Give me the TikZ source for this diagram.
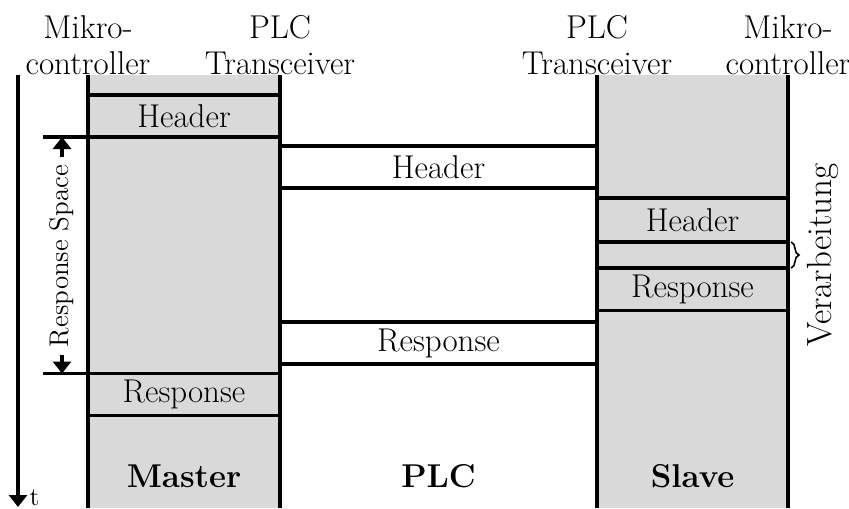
\documentclass[tikz,border=0pt]{standalone}
\usepackage{xcolor}
\usetikzlibrary{arrows.meta, positioning, decorations.pathreplacing}
\definecolor{lanegray}{gray}{0.85}

\begin{document}
\begin{tikzpicture}[x=0.5pt, y=-0.5pt, line width=1.6pt, font=\fontsize{16.5}{18}\selectfont]
        % Define block styles
        \tikzstyle{slot} = [rectangle, draw=black, fill=lanegray, minimum width=96pt, minimum height=21pt, inner sep=0pt, outer sep=0pt]
        \tikzstyle{frame} = [rectangle, draw=black, fill=white, minimum width=158.5pt, minimum height=21pt, inner sep=0pt, outer sep=0pt]
        \tikzstyle{head} = [align=center, inner sep=0pt]
        \tikzstyle{line} = [draw, -{Triangle[length=6pt, width=9pt]}]

        \useasboundingbox (0,0) rectangle (849,508);

        % Lanes of master and slave
        \fill[lanegray] (88,75) rectangle (280,508);
        \fill[lanegray] (597,75) rectangle (788,508);
        \coordinate (m1) at (88,75);  \coordinate (m1e) at (88,508);
        \coordinate (m2) at (280,75); \coordinate (m2e) at (280,508);
        \coordinate (s1) at (597,75); \coordinate (s1e) at (597,508);
        \coordinate (s2) at (788,75); \coordinate (s2e) at (788,508);
        \draw (m1) -- (m1e);
        \draw (m2) -- (m2e);
        \draw (s1) -- (s1e);
        \draw (s2) -- (s2e);

        % Define nodes
        \node [slot] (mh) at (184,116) {Header};
        \node [frame] (ph) at (438.5,167) {Header};
        \node [slot, minimum width=95.5pt, minimum height=22pt] (sh) at (692.5,220) {Header};
        \node [slot, minimum width=95.5pt, minimum height=13pt] (sp) at (692.5,255) {};
        \node [slot, minimum width=95.5pt] (sr) at (692.5,289.5) {Response};
        \node [frame] (pr) at (438.5,343) {Response};
        \node [slot] (mr) at (184,394.5) {Response};

        % Column labels
        \node [head] (ml) at (88,45) {Mikro-\\controller};
        \node [head] (mt) at (280,45) {PLC\\Transceiver};
        \node [head] (st) at (597,45) {PLC\\Transceiver};
        \node [head] (sl) at (788,45) {Mikro-\\controller};
        \node (master) at (184,476) {\textbf{Master}};
        \node (plc) at (438.5,476) {\textbf{PLC}};
        \node (slave) at (692.5,476) {\textbf{Slave}};

        % Time axis
        \coordinate (t0) at (18,75);
        \coordinate (t1) at (18,507);
        \path [line] (t0) -- (t1) node [anchor=south west, inner sep=0pt, xshift=5pt, font=\fontsize{13}{15}\selectfont] (t) {t};

        % Response space
        \coordinate (ra) at ([xshift=-22.5pt]mh.south west);
        \coordinate (rb) at ([xshift=-22.5pt]mr.north west);
        \draw (ra) -- (mh.south west);
        \draw (rb) -- (mr.north west);
        \node [rotate=90, inner sep=3pt, font=\fontsize{13.5}{15}\selectfont] (rs) at (62,256) {Response Space};
        \path [line] (rs.east) -- (rs.east |- mh.south);
        \path [line] (rs.west) -- (rs.west |- mr.north);

        % Processing on the slave
        \draw [decorate, decoration={brace, amplitude=4pt}, line width=0.8pt] ([xshift=1.5pt]sp.north east) -- ([xshift=1.5pt]sp.south east);
        \node [rotate=90, font=\fontsize{17.5}{19}\selectfont] (proc) at (823,255) {Verarbeitung};

    \end{tikzpicture}
\end{document}
